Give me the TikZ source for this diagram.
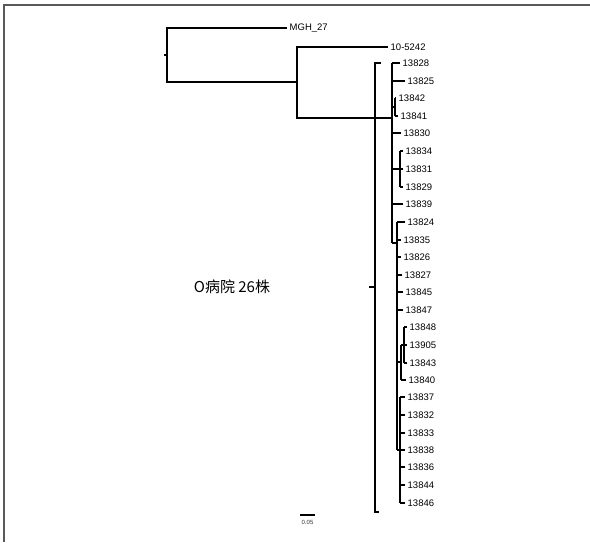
\documentclass[tikz,border=0pt]{standalone}
\usepackage{fontspec}
\setmainfont{Liberation Sans}
\newfontfamily\cjk{Noto Sans CJK SC}

\begin{document}
\begin{tikzpicture}[x=1pt,y=-1pt,
  branch/.style={draw=black,line width=1.2pt},
  bracket/.style={draw=black,line width=1.6pt},
  frame/.style={draw=black!65,line width=1.2pt},
  leaf/.style={anchor=west,inner sep=2.5pt,font=\fontsize{9.5}{10}\selectfont,text=black},
  group/.style={font=\cjk\fontsize{15}{17}\selectfont,text=black},
  scalelabel/.style={font=\fontsize{6}{7}\selectfont,text=black!80,inner sep=1pt},
]
\useasboundingbox (0,0) rectangle (590,542);
\draw[frame] (4,542) -- (4,5) -- (590,5);

% outgroups
\coordinate (root) at (167,55);
\coordinate (n1) at (297,82);
\node[leaf] (mgh) at (287,28) {MGH\_27};
\node[leaf] (ten) at (388,47) {10-5242};
\draw[branch] (mgh.west) -| (root);
\draw[branch] (n1) -| (root);
\draw[branch] (root) -- ++(-3,0);
\draw[branch] (ten.west) -| (n1);

% clades of the hospital group
\coordinate (cA) at (392,118);
\coordinate (c34) at (395,107);
\coordinate (c68) at (400,169);
\coordinate (cB) at (397,243);
\coordinate (cC) at (404,345);
\coordinate (cD) at (401,362);
\coordinate (cE) at (400,450);
\draw[branch] (cA) -| (n1);

\foreach \i/\lab/\y/\lx/\c in {1/13828/63/403/cA, 2/13825/81/408/cA,
    3/13842/98/399/c34, 4/13841/116/401/c34, 5/13830/133/404/cA,
    6/13834/151/406/c68, 7/13831/169/406/c68, 8/13829/187/406/c68,
    9/13839/204/406/cA, 10/13824/222/408/cB, 11/13835/240/404/cB,
    12/13826/257/404/cB, 13/13827/275/405/cB, 14/13845/292/406/cB,
    15/13847/310/406/cB, 16/13848/327/410/cC, 17/13905/345/410/cC,
    18/13843/363/410/cC, 19/13840/380/409/cD, 20/13837/397/408/cE,
    21/13832/415/408/cE, 22/13833/433/408/cE, 23/13838/450/408/cE,
    24/13836/467/408/cE, 25/13844/485/408/cE, 26/13846/503/408/cE} {
  \node[leaf] (t\i) at (\lx-3,\y) {\lab};
  \draw[branch] (t\i.west) -- (t\i.west -| \c);
}

\draw[branch] (cA |- t1.west) -- (cA |- cB);
\draw[branch] (c34 |- t3.west) -- (c34 |- t4.west);
\draw[branch] (c34) -- (c34 -| cA);
\draw[branch] (c68 |- t6.west) -- (c68 |- t8.west);
\draw[branch] (c68) -- (c68 -| cA);
\draw[branch] (cB) -- (cB -| cA);
\draw[branch] (cB |- t10.west) -- (cB |- cE);
\draw[branch] (cC |- t16.west) -- (cC |- t18.west);
\draw[branch] (cC) -- (cC -| cD);
\draw[branch] (cD |- cC) -- (cD |- t19.west);
\draw[branch] (cD) -- (cD -| cB);
\draw[branch] (cE |- t20.west) -- (cE |- t26.west);
\draw[branch] (cE) -- (cE -| cB);

% group bracket
\coordinate (bt) at (375,63);
\coordinate (bb) at (375,512);
\coordinate (bm) at (375,287);
\draw[bracket] ([xshift=6pt]bt) -- (bt) -- (bb) -- ++(4,0);
\draw[bracket] (bm) -- ++(-6,0);
\node[group] (grp) at (232,287) {O病院 26株};

% scale
\coordinate (sb) at (300,515);
\coordinate (sbe) at (315,515);
\draw[branch] (sb) -- (sbe);
\node[scalelabel] (sbl) at (307.5,522) {0.05};

\end{tikzpicture}
\end{document}
